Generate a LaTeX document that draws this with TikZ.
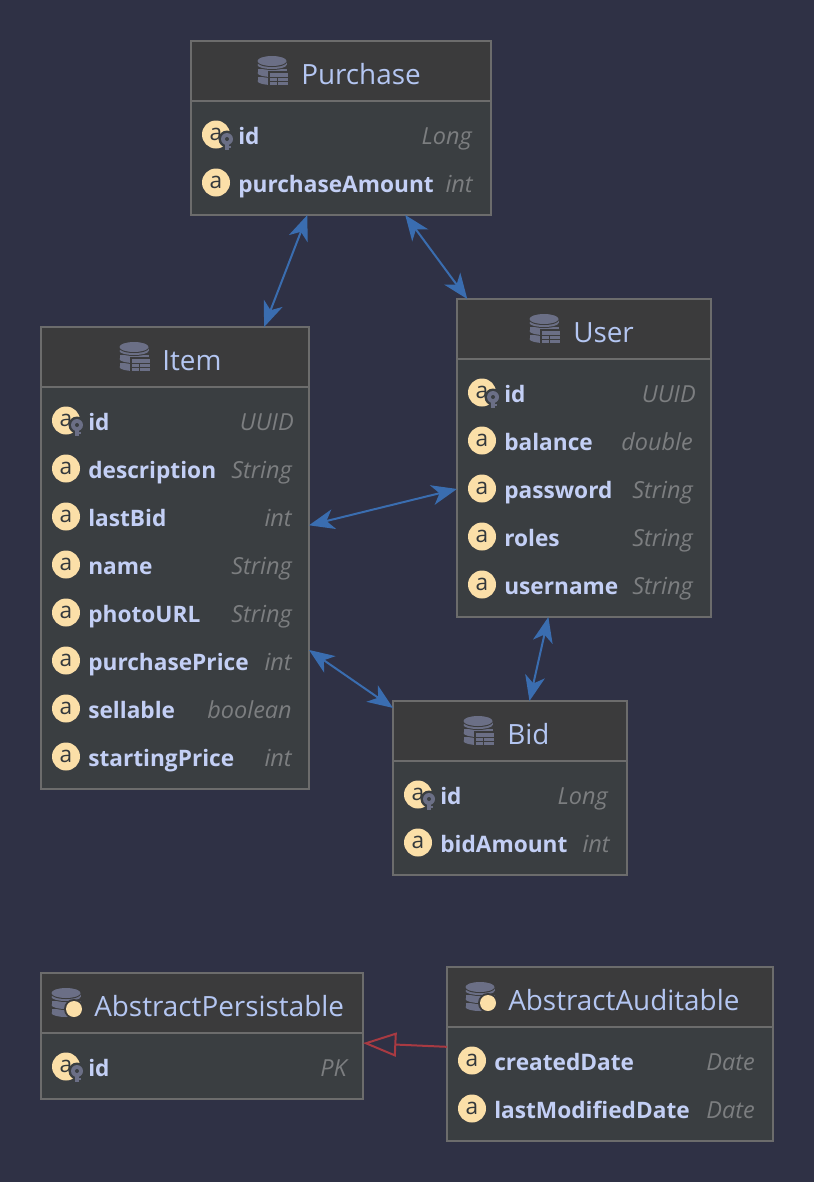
\documentclass[tikz,border=0pt]{standalone}
\usepackage{fontspec}
\setmainfont{Open Sans}
\usetikzlibrary{positioning, arrows.meta, fit}

\definecolor{canvasbg}{HTML}{2F3145}
\definecolor{headbg}{HTML}{3B3B3C}
\definecolor{bodybg}{HTML}{3A3E41}
\definecolor{edgegray}{HTML}{6C6C6C}
\definecolor{titleblue}{HTML}{B4C6F2}
\definecolor{namecol}{HTML}{C3CFF5}
\definecolor{typegray}{HTML}{7C7E80}
\definecolor{attrfill}{HTML}{FBDFA8}
\definecolor{attrink}{HTML}{33383C}
\definecolor{icongray}{HTML}{6B6F86}
\definecolor{linkblue}{HTML}{3A6DB0}
\definecolor{inheritred}{HTML}{A83A42}

% entity box: name, left, top, right, bottom, header line, title x, title
\newcommand{\entity}[8]{
  \node[entitybox, fit={(#2,#3) (#4,#5)}] (#1) {};
  \fill[headbg] (#2,#3) rectangle (#4,#6);
  \draw[entityedge] (#2,#3) rectangle (#4,#5);
  \draw[entityedge] (#2,#6) -- (#4,#6);
  \node[titletext] (#1title) at (#7,{#3+43}) {#8};
}
% one attribute row: name, circle x, y, right end of type, label, type
\newcommand{\attrrow}[6]{
  \node[attrdot] (#1dot) at (#2,{#3+0.5}) {a};
  \node[nametext] (#1name) at ({#2+22},{#3+10}) {#5};
  \node[typetext] (#1type) at (#4,{#3+10}) {#6};
}
\newcommand{\keyicon}[2]{
  \fill[bodybg] ({#1+11},{#2+5}) circle [radius=8.5];
  \fill[icongray] ({#1+9},{#2+5}) rectangle ({#1+13},{#2+16});
  \fill[icongray] ({#1+11},{#2+12}) rectangle ({#1+15},{#2+14});
  \fill[icongray] ({#1+11},{#2+5}) circle [radius=6];
  \fill[bodybg] ({#1+11},{#2+5}) circle [radius=2];
}
\newcommand{\dbdiscs}[2]{
  \foreach \dy in {9,1,-7} {
    \fill[headbg] ({#1},{#2+\dy+2}) ellipse [x radius=15, y radius=5];
    \fill[icongray] ({#1-14.5},{#2+\dy-2}) rectangle ({#1+14.5},{#2+\dy+2});
    \fill[icongray] ({#1},{#2+\dy+2}) ellipse [x radius=14.5, y radius=4];
  }
  \fill[headbg] ({#1},{#2-8}) ellipse [x radius=15, y radius=5];
  \fill[icongray] ({#1},{#2-9}) ellipse [x radius=14.5, y radius=5];
}
\newcommand{\dbtable}[2]{
  \dbdiscs{#1}{#2}
  \fill[headbg] ({#1-4},{#2+1}) rectangle ({#1+17},{#2+16});
  \fill[icongray] ({#1-2},{#2+3}) rectangle ({#1+16},{#2+15});
  \draw[headbg, line width=0.75pt] ({#1-2},{#2+7}) -- ({#1+16},{#2+7});
  \draw[headbg, line width=0.75pt] ({#1-2},{#2+11}) -- ({#1+16},{#2+11});
  \draw[headbg, line width=0.75pt] ({#1+5},{#2+7}) -- ({#1+5},{#2+15});
}
\newcommand{\dbdot}[2]{
  \dbdiscs{#1}{#2}
  \fill[headbg] ({#1+8},{#2+7}) circle [radius=10];
  \fill[attrfill] ({#1+8},{#2+7}) circle [radius=8];
}

\begin{document}
\begin{tikzpicture}[
    x=0.75pt, y=-0.75pt,
    entitybox/.style={fill=bodybg, inner sep=0pt, outer sep=0pt},
    entityedge/.style={draw=edgegray, line width=1.4pt},
    titletext/.style={anchor=base west, inner sep=0pt, text=titleblue, font=\fontsize{20.9}{24}\selectfont},
    nametext/.style={anchor=base west, inner sep=0pt, text=namecol, font=\fontsize{17}{20}\selectfont\bfseries},
    typetext/.style={anchor=base east, inner sep=0pt, text=typegray, font=\fontsize{17.6}{20}\selectfont\itshape},
    attrdot/.style={circle, fill=attrfill, text=attrink, minimum size=21pt, inner sep=0pt, font=\fontsize{17}{17}\selectfont},
    link/.style={{Stealth[length=19pt, width=15pt, inset=5.5pt]}-{Stealth[length=19pt, width=15pt, inset=5.5pt]}, draw=linkblue, line width=1.5pt},
    inherit/.style={-{Triangle[open, fill=none, length=25pt, width=18pt]}, draw=inheritred, line width=1.5pt},
]
\useasboundingbox (0,0) rectangle (814,1182);
\fill[canvasbg] (0,0) rectangle (814,1182);

% tables
\entity{purchase}{191}{41}{491}{215}{101}{301}{Purchase}
\dbtable{272}{70}
\attrrow{purchaseid}{216}{134}{472}{id}{Long}
\keyicon{216}{134}
\attrrow{purchaseamount}{216}{182}{473}{purchaseAmount}{int}

\entity{item}{41}{327}{309}{789}{387}{162}{Item}
\dbtable{134}{356}
\attrrow{itemid}{66}{420}{294}{id}{UUID}
\keyicon{66}{420}
\attrrow{itemdescription}{66}{468}{292}{description}{String}
\attrrow{itemlastbid}{66}{516}{292}{lastBid}{int}
\attrrow{itemname}{66}{564}{292}{name}{String}
\attrrow{itemphoto}{66}{612}{292}{photoURL}{String}
\attrrow{itemprice}{66}{660}{292}{purchasePrice}{int}
\attrrow{itemsellable}{66}{708}{292}{sellable}{boolean}
\attrrow{itemstart}{66}{756}{292}{startingPrice}{int}

\entity{user}{457}{299}{711}{617}{359}{573}{User}
\dbtable{544}{328}
\attrrow{userid}{482}{392}{696}{id}{UUID}
\keyicon{482}{392}
\attrrow{userbalance}{482}{440}{693}{balance}{double}
\attrrow{userpassword}{482}{488}{693}{password}{String}
\attrrow{userroles}{482}{536}{693}{roles}{String}
\attrrow{username}{482}{584}{693}{username}{String}

\entity{bid}{393}{701}{627}{875}{761}{507}{Bid}
\dbtable{478}{730}
\attrrow{bidid}{418}{794}{608}{id}{Long}
\keyicon{418}{794}
\attrrow{bidamount}{418}{842}{610}{bidAmount}{int}

\entity{persistable}{41}{973}{363}{1099}{1033}{94}{AbstractPersistable}
\dbdot{66}{1002}
\attrrow{persistableid}{66}{1066}{347}{id}{PK}
\keyicon{66}{1066}

\entity{auditable}{447}{967}{773}{1141}{1027}{508}{AbstractAuditable}
\dbdot{480}{996}
\attrrow{auditcreated}{472}{1060}{755}{createdDate}{Date}
\attrrow{auditmodified}{472}{1108}{755}{lastModifiedDate}{Date}

% links
\draw[link] (purchase) -- (item);
\draw[link] (purchase) -- (user);
\draw[link] (item) -- (user);
\draw[link] (item) -- (bid);
\draw[link] (user) -- (bid);
\draw[inherit] (auditable) -- (persistable);

\end{tikzpicture}
\end{document}
